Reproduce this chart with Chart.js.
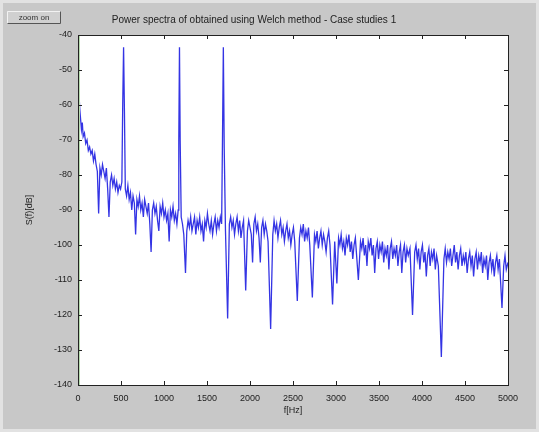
<!DOCTYPE html>
<html>
<head>
<meta charset="utf-8">
<script src="https://cdn.jsdelivr.net/npm/chart.js@4.4.1/dist/chart.umd.min.js"></script>
<style>
  html, body { margin: 0; padding: 0; background: #c8c8c8; }
  canvas { display: block; }
</style>
</head>
<body>
<canvas id="chart" width="539" height="432"></canvas>
<script>
// values (Hz / dB)
const freq = [
  0, 10, 20, 30, 40, 50, 60, 75, 90, 105, 120, 135, 150, 165, 180, 195, 210, 225, 240, 255,
  270, 285, 300, 315, 330, 345, 360, 375, 390, 405, 420, 435, 450, 465, 480, 495, 510, 520, 530, 540,
  550, 565, 580, 595, 610, 625, 640, 655, 670, 685, 700, 715, 730, 745, 760, 775, 790, 805, 820, 835,
  850, 865, 880, 895, 910, 925, 940, 955, 970, 985, 1000, 1015, 1030, 1045, 1060, 1075, 1090, 1105, 1120, 1135,
  1150, 1165, 1172, 1180, 1188, 1200, 1215, 1230, 1250, 1265, 1280, 1295, 1310, 1325, 1340, 1355, 1370, 1385, 1400, 1415,
  1430, 1445, 1460, 1475, 1490, 1505, 1520, 1535, 1550, 1565, 1580, 1595, 1610, 1625, 1640, 1655, 1670, 1680, 1690, 1700,
  1715, 1740, 1760, 1775, 1790, 1805, 1820, 1835, 1850, 1865, 1880, 1895, 1910, 1925, 1950, 1970, 1985, 2000, 2015, 2030,
  2045, 2060, 2075, 2090, 2105, 2120, 2135, 2150, 2165, 2180, 2195, 2210, 2240, 2265, 2280, 2295, 2310, 2325, 2340, 2355,
  2370, 2385, 2400, 2415, 2430, 2445, 2460, 2475, 2490, 2505, 2520, 2550, 2575, 2590, 2605, 2620, 2635, 2650, 2665, 2680,
  2695, 2725, 2750, 2765, 2780, 2795, 2810, 2825, 2840, 2855, 2870, 2885, 2900, 2915, 2930, 2960, 2985, 3010, 3030, 3045,
  3060, 3075, 3090, 3105, 3120, 3135, 3150, 3165, 3180, 3195, 3210, 3225, 3260, 3285, 3300, 3315, 3330, 3345, 3360, 3375,
  3390, 3405, 3420, 3435, 3450, 3465, 3480, 3495, 3510, 3525, 3540, 3555, 3570, 3585, 3600, 3615, 3630, 3645, 3660, 3675,
  3690, 3705, 3720, 3735, 3750, 3765, 3780, 3795, 3810, 3825, 3840, 3860, 3890, 3915, 3930, 3945, 3960, 3975, 3990, 4005,
  4020, 4035, 4050, 4065, 4080, 4095, 4110, 4125, 4140, 4155, 4170, 4190, 4225, 4255, 4270, 4285, 4300, 4315, 4330, 4345,
  4360, 4375, 4390, 4405, 4420, 4435, 4450, 4465, 4480, 4495, 4510, 4525, 4540, 4555, 4570, 4585, 4600, 4615, 4630, 4645,
  4660, 4675, 4690, 4705, 4720, 4735, 4750, 4765, 4780, 4795, 4810, 4825, 4840, 4855, 4870, 4885, 4900, 4930, 4950, 4965,
  4980, 5000
];
const power = [
  -53, -56, -61, -64, -67, -65, -69, -68, -71, -70, -73, -72, -74, -73, -76, -74, -77, -79, -91, -78,
  -80, -77, -79, -81, -78, -84, -92, -82, -80, -83, -81, -84, -82, -85, -83, -84, -82, -60, -43.5, -62,
  -84, -86, -83, -87, -85, -90, -86, -88, -97, -87, -89, -86, -90, -88, -92, -87, -89, -91, -88, -94,
  -102, -90, -88, -91, -89, -93, -96, -89, -91, -88, -92, -90, -93, -91, -99, -90, -92, -89, -93, -91,
  -94, -90, -70, -43.5, -70, -92, -94, -97, -108, -96, -93, -95, -92, -96, -94, -92, -97, -93, -95, -92,
  -96, -94, -99, -93, -95, -91, -94, -96, -93, -97, -94, -92, -96, -93, -95, -92, -94, -70, -43.5, -72,
  -96, -121, -94, -92, -95, -93, -97, -94, -92, -96, -93, -98, -95, -93, -113, -96, -93, -95, -97, -105,
  -94, -92, -96, -94, -98, -105, -95, -93, -97, -94, -96, -99, -124, -97, -93, -96, -94, -98, -95, -93,
  -97, -95, -99, -96, -94, -98, -96, -100, -97, -95, -99, -116, -98, -95, -97, -94, -99, -96, -98, -95,
  -100, -115, -97, -99, -96, -101, -98, -96, -100, -97, -99, -102, -98, -96, -100, -117, -99, -111, -98, -100,
  -97, -101, -99, -103, -98, -100, -97, -102, -99, -104, -100, -98, -110, -99, -101, -98, -103, -100, -106, -99,
  -101, -98, -103, -100, -108, -101, -99, -104, -100, -102, -99, -105, -101, -103, -100, -107, -101, -99, -104, -101,
  -103, -100, -106, -102, -100, -108, -102, -100, -105, -101, -103, -101, -120, -102, -100, -104, -101, -107, -102, -100,
  -105, -102, -109, -103, -101, -106, -102, -104, -101, -107, -103, -106, -132, -104, -101, -105, -102, -104, -101, -106,
  -103, -100, -105, -102, -107, -103, -101, -106, -103, -105, -102, -108, -104, -102, -106, -103, -109, -104, -102, -107,
  -103, -105, -102, -108, -104, -106, -103, -110, -105, -103, -107, -104, -109, -105, -103, -107, -104, -118, -106, -103,
  -107, -105
];
const xTicks = [0, 500, 1000, 1500, 2000, 2500, 3000, 3500, 4000, 4500, 5000];
const yTicks = [-140, -130, -120, -110, -100, -90, -80, -70, -60, -50, -40];

const matlabFrame = {
  id: 'matlabFrame',
  beforeDraw(chart) {
    const { ctx, chartArea: a } = chart;
    ctx.save();
    ctx.fillStyle = '#c8c8c8';
    ctx.fillRect(0, 0, chart.width, chart.height);
    // light outer frame
    ctx.strokeStyle = '#e2e2e2';
    ctx.lineWidth = 3;
    ctx.strokeRect(1.5, 1.5, chart.width - 3, chart.height - 3);
    ctx.fillStyle = '#ffffff';
    ctx.fillRect(a.left, a.top, a.right - a.left, a.bottom - a.top);
    // "zoom on" button
    ctx.fillStyle = '#d0d0d0';
    ctx.fillRect(7, 11, 54, 13);
    ctx.strokeStyle = '#f2f2f2';
    ctx.lineWidth = 1;
    ctx.beginPath();
    ctx.moveTo(7.5, 23.5); ctx.lineTo(7.5, 11.5); ctx.lineTo(60.5, 11.5);
    ctx.stroke();
    ctx.strokeStyle = '#555';
    ctx.beginPath();
    ctx.moveTo(60.5, 11.5); ctx.lineTo(60.5, 23.5); ctx.lineTo(7.5, 23.5);
    ctx.stroke();
    ctx.fillStyle = '#333';
    ctx.font = '8px "Liberation Sans", Arial, sans-serif';
    ctx.textAlign = 'center';
    ctx.textBaseline = 'middle';
    ctx.fillText('zoom on', 34, 18);
    ctx.restore();
  },
  afterDatasetsDraw(chart) {
    const { ctx, chartArea: a, scales } = chart;
    ctx.save();
    // faint green line along the left edge
    ctx.strokeStyle = '#b8dcb0';
    ctx.lineWidth = 1;
    ctx.beginPath();
    ctx.moveTo(a.left + 1.5, a.top);
    ctx.lineTo(a.left + 1.5, a.bottom);
    ctx.stroke();
    ctx.strokeStyle = '#222';
    ctx.lineWidth = 1;
    ctx.beginPath();
    xTicks.forEach(v => {
      const x = Math.round(scales.x.getPixelForValue(v)) + 0.5;
      ctx.moveTo(x, a.bottom); ctx.lineTo(x, a.bottom - 4);
      ctx.moveTo(x, a.top); ctx.lineTo(x, a.top + 4);
    });
    yTicks.forEach(v => {
      const y = Math.round(scales.y.getPixelForValue(v)) + 0.5;
      ctx.moveTo(a.left, y); ctx.lineTo(a.left + 4, y);
      ctx.moveTo(a.right, y); ctx.lineTo(a.right - 4, y);
    });
    ctx.stroke();
    ctx.strokeRect(Math.round(a.left) + 0.5, Math.round(a.top) + 0.5,
      Math.round(a.right - a.left), Math.round(a.bottom - a.top));
    ctx.restore();
  }
};

const tickFont = { family: '"Liberation Sans", Arial, sans-serif', size: 9 };

new Chart('chart', {
  type: 'scatter',
  data: {
    datasets: [{
      data: freq.map((f, i) => ({ x: f, y: power[i] })),
      showLine: true,
      borderColor: 'rgba(30,30,225,0.9)',
      borderWidth: 1.3,
      pointRadius: 0,
      tension: 0
    }]
  },
  options: {
    responsive: false,
    animation: false,
    layout: { padding: { left: 0, right: 31, top: 2, bottom: 0 } },
    plugins: {
      legend: { display: false },
      tooltip: { enabled: false },
      title: {
        display: true,
        text: 'Power spectra of obtained using Welch method - Case studies 1',
        color: '#222',
        font: { family: '"Liberation Sans", Arial, sans-serif', size: 10, weight: 'normal' },
        padding: { top: 12, bottom: 9 }
      }
    },
    scales: {
      x: {
        type: 'linear',
        min: 0,
        max: 5000,
        afterBuildTicks: s => { s.ticks = xTicks.map(v => ({ value: v })); },
        afterFit: s => { s.height = 47; },
        grid: { display: false, drawTicks: false },
        border: { display: false },
        ticks: { color: '#222', font: tickFont, padding: 8, maxRotation: 0, autoSkip: false,
                 callback: v => String(v) },
        title: { display: true, text: 'f[Hz]', color: '#222', font: tickFont, padding: { top: 0, bottom: 16 } }
      },
      y: {
        type: 'linear',
        min: -140,
        max: -40,
        afterBuildTicks: s => { s.ticks = yTicks.map(v => ({ value: v })); },
        afterFit: s => { s.width = 78; },
        grid: { display: false, drawTicks: false },
        border: { display: false },
        ticks: { color: '#222', font: tickFont, padding: 6, autoSkip: false,
                 callback: v => String(v) },
        title: { display: true, text: 'S(f)[dB]', color: '#222', font: tickFont, padding: { top: 24, bottom: 0 } }
      }
    }
  },
  plugins: [matlabFrame]
});
</script>
</body>
</html>
